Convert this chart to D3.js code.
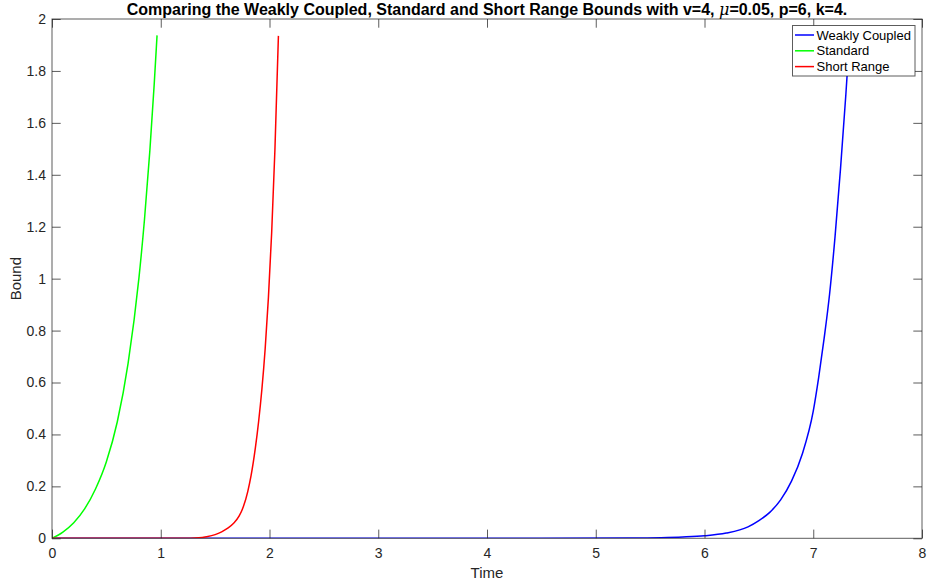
<!DOCTYPE html>
<html><head><meta charset="utf-8">
<script src="https://cdn.jsdelivr.net/npm/d3@7"></script>
<style>body{margin:0;background:#fff}svg{display:block}text{font-family:"Liberation Sans",Arial,Helvetica,sans-serif}</style>
</head><body>
<script>
const xTicks = [0,1,2,3,4,5,6,7,8];
const yTicks = [0,0.2,0.4,0.6,0.8,1,1.2,1.4,1.6,1.8,2];
const seriesNames = ["Weakly Coupled","Standard","Short Range"];
const seriesColors = ["#0000ff","#00ff00","#ff0000"];
const weakT = [0,4.5,5.3,5.6,5.8,6.0,6.2,6.4,6.5,6.6,6.7,6.8,6.9,7.0,7.05,7.1,7.15,7.2,7.25,7.3,7.335];
const weakV = [0,0,0.001,0.0025,0.005,0.0095,0.02,0.044,0.068,0.1,0.148,0.22,0.326,0.49,0.62,0.77,0.94,1.16,1.42,1.71,1.935];
const stdT = [0,0.1,0.2,0.3,0.4,0.5,0.6,0.7,0.8,0.85,0.9,0.94,0.966];
const stdV = [0,0.024,0.06,0.113,0.19,0.295,0.448,0.675,1.005,1.226,1.494,1.75,1.937];
const shortT = [0,1.2,1.35,1.42,1.5,1.56,1.62,1.67,1.72,1.76,1.8,1.83,1.87,1.9,1.93,1.96,1.99,2.02,2.05,2.082];
const shortV = [0,0,0.002,0.006,0.014,0.025,0.04,0.058,0.085,0.122,0.18,0.24,0.348,0.45,0.574,0.729,0.927,1.178,1.498,1.935];

const W=928,H=586, L=52, R=922, T=19, B=538.3;
const svg=d3.select("body").append("svg").attr("width",W).attr("height",H);
const x=d3.scaleLinear().domain([0,8]).range([L,R]);
const y=d3.scaleLinear().domain([0,2]).range([B,T]);
const axC="#262626";

svg.append("defs").append("clipPath").attr("id","clip").append("rect")
  .attr("x",L).attr("y",T).attr("width",R-L).attr("height",B-T);

const series=[[weakT,weakV],[stdT,stdV],[shortT,shortV]].map((s,i)=>({name:seriesNames[i],color:seriesColors[i],pts:s[0].map((t,j)=>[t,s[1][j]])}));
const line=d3.line().x(d=>x(d[0])).y(d=>y(d[1])).curve(d3.curveMonotoneX);
svg.append("g").attr("clip-path","url(#clip)").selectAll("path").data(series).join("path")
  .attr("d",d=>line(d.pts)).attr("fill","none").attr("stroke",d=>d.color).attr("stroke-width",1.5);

const tl=8.7;
function styleAxis(g){g.select(".domain").remove();g.selectAll(".tick line").attr("stroke",axC).attr("stroke-opacity",0.75);g.selectAll("text").attr("fill",axC).attr("font-size",14);}
svg.append("g").attr("transform",`translate(0,${B})`).call(d3.axisBottom(x).tickValues(xTicks).tickSize(-tl).tickPadding(9.5).tickFormat(d3.format("d"))).call(styleAxis);
svg.append("g").attr("transform",`translate(0,${T})`).call(d3.axisTop(x).tickValues(xTicks).tickSize(-tl).tickFormat("")).call(styleAxis);
svg.append("g").attr("transform",`translate(${L},0)`).call(d3.axisLeft(y).tickValues(yTicks).tickSize(-tl).tickPadding(6).tickFormat(d=>d3.format("")(+d.toFixed(1)))).call(styleAxis);
svg.append("g").attr("transform",`translate(${R},0)`).call(d3.axisRight(y).tickValues(yTicks).tickSize(-tl).tickFormat("")).call(styleAxis);
svg.append("rect").attr("x",L).attr("y",T).attr("width",R-L).attr("height",B-T).attr("fill","none").attr("stroke",axC).attr("stroke-opacity",0.75);

svg.append("text").attr("x",(L+R)/2).attr("y",578).attr("text-anchor","middle").attr("font-size",15).attr("fill",axC).text("Time");
svg.append("text").attr("transform",`translate(21,${(T+B)/2}) rotate(-90)`).attr("text-anchor","middle").attr("font-size",15).attr("fill",axC).text("Bound");

const title=svg.append("text").attr("x",(L+R)/2).attr("y",14.5).attr("text-anchor","middle").attr("font-size",16).attr("font-weight","bold").attr("fill","#000");
title.append("tspan").text("Comparing the Weakly Coupled, Standard and Short Range Bounds with v=4, ");
title.append("tspan").attr("font-style","italic").attr("font-weight","normal").attr("font-family","'DejaVu Serif',serif").text("μ");
title.append("tspan").text("=0.05, p=6, k=4.");

const lg=svg.append("g");
lg.append("rect").attr("x",792.5).attr("y",25.5).attr("width",122.5).attr("height",50.5).attr("fill","#fff").attr("stroke",axC).attr("stroke-opacity",0.75);
series.forEach((s,i)=>{
  const yy=35+i*15.8;
  lg.append("line").attr("x1",795).attr("x2",814).attr("y1",yy).attr("y2",yy).attr("stroke",s.color).attr("stroke-width",1.5);
  lg.append("text").attr("x",816.5).attr("y",yy+4.5).attr("font-size",13).attr("fill","#000").text(s.name);
});
</script>
</body></html>
